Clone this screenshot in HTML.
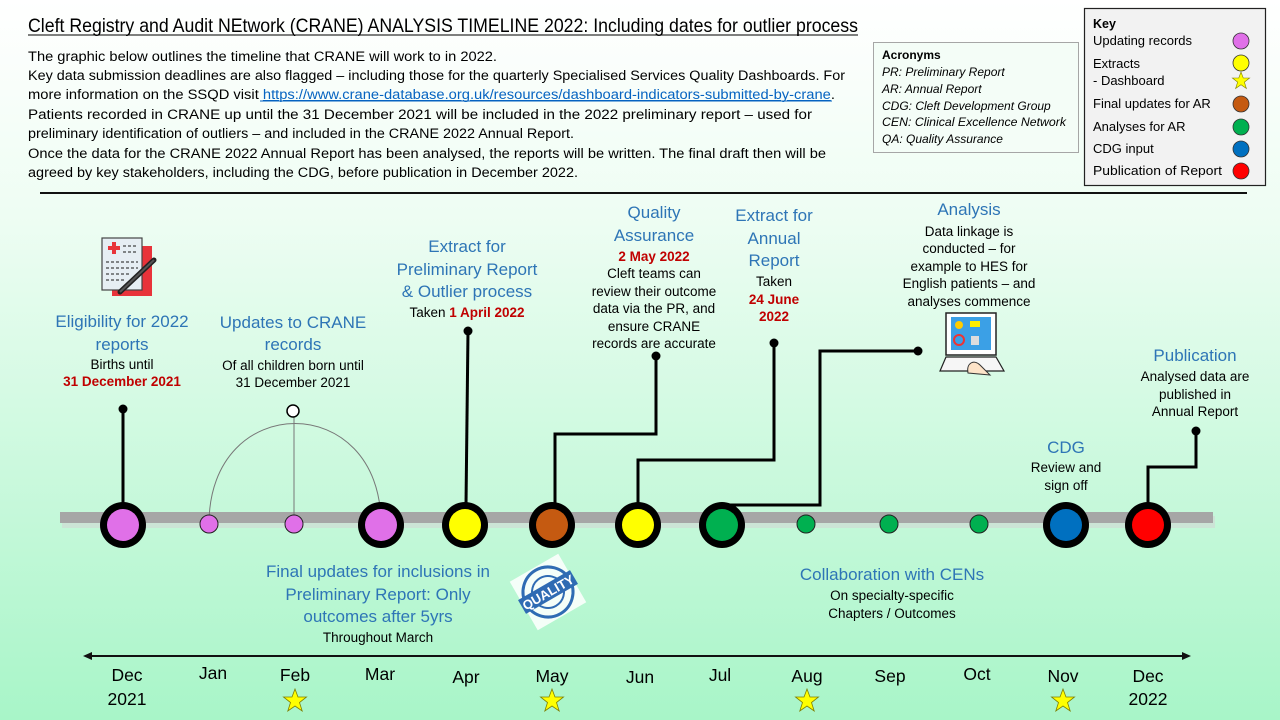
<!DOCTYPE html>
<html><head><meta charset="utf-8"><style>
html,body{margin:0;padding:0;width:1280px;height:720px;overflow:hidden}
svg{display:block}
text{font-family:"Liberation Sans",sans-serif}
.b{fill:#2e75b6;font-size:17px;text-anchor:middle}
.k{fill:#000;font-size:13.5px;text-anchor:middle}
.r{fill:#c00000;font-size:13.5px;font-weight:bold;text-anchor:middle}
.m{fill:#000;font-size:17.5px;text-anchor:middle}
.p{fill:#000;font-size:13.5px}
.a{fill:#000;font-size:12px;font-style:italic}
.y{fill:#000;font-size:13px}
</style></head><body>
<svg width="1280" height="720" viewBox="0 0 1280 720">
<defs>
<linearGradient id="bg" x1="0" y1="0" x2="0" y2="1">
<stop offset="0" stop-color="#ffffff"/><stop offset="0.3" stop-color="#eefdf3"/><stop offset="1" stop-color="#a8f5c8"/>
</linearGradient>
<g id="star"><polygon points="0,-12 3,-4 11.5,-4 4.5,1.5 7.2,10 0,5 -7.2,10 -4.5,1.5 -11.5,-4 -3,-4" fill="#ffff00" stroke="#7f7f00" stroke-width="0.8"/></g>
</defs>
<rect width="1280" height="720" fill="url(#bg)"/>

<text x="28" y="32" font-size="19.5" fill="#000" textLength="830" lengthAdjust="spacingAndGlyphs">Cleft Registry and Audit NEtwork (CRANE) ANALYSIS TIMELINE 2022: Including dates for outlier process</text>
<line x1="28" y1="35" x2="858" y2="35" stroke="#000" stroke-width="1"/>
<text class="p" x="28" y="61" textLength="469" lengthAdjust="spacingAndGlyphs">The graphic below outlines the timeline that CRANE will work to in 2022.</text>
<text class="p" x="28" y="80" textLength="817" lengthAdjust="spacingAndGlyphs">Key data submission deadlines are also flagged – including those for the quarterly Specialised Services Quality Dashboards. For</text>
<text class="p" x="28" y="99" textLength="807" lengthAdjust="spacingAndGlyphs">more information on the SSQD visit <tspan fill="#0563c1" text-decoration="underline">https://www.crane-database.org.uk/resources/dashboard-indicators-submitted-by-crane</tspan>.</text>
<line x1="260" y1="101" x2="832" y2="101" stroke="#0563c1" stroke-width="1"/>
<text class="p" x="28" y="119" textLength="784" lengthAdjust="spacingAndGlyphs">Patients recorded in CRANE up until the 31 December 2021 will be included in the 2022 preliminary report – used for</text>
<text class="p" x="28" y="138" textLength="546" lengthAdjust="spacingAndGlyphs">preliminary identification of outliers – and included in the CRANE 2022 Annual Report.</text>
<text class="p" x="28" y="158" textLength="798" lengthAdjust="spacingAndGlyphs">Once the data for the CRANE 2022 Annual Report has been analysed, the reports will be written. The final draft then will be</text>
<text class="p" x="28" y="177" textLength="550" lengthAdjust="spacingAndGlyphs">agreed by key stakeholders, including the CDG, before publication in December 2022.</text>

<rect x="873.5" y="42.5" width="205" height="110" fill="#f4fdf7" stroke="#a6a6a6"/>
<text x="882" y="59" font-size="12" font-weight="bold" fill="#000">Acronyms</text>
<text class="a" x="882" y="76">PR: Preliminary Report</text>
<text class="a" x="882" y="93">AR: Annual Report</text>
<text class="a" x="882" y="110">CDG: Cleft Development Group</text>
<text class="a" x="882" y="126" textLength="184" lengthAdjust="spacingAndGlyphs">CEN: Clinical Excellence Network</text>
<text class="a" x="882" y="143">QA: Quality Assurance</text>

<rect x="1084.5" y="8.5" width="181" height="177" fill="#f2f2f2" stroke="#222" stroke-width="1.2"/>
<text x="1093" y="28" font-size="12.5" font-weight="bold" fill="#000">Key</text>
<text class="y" x="1093" y="45">Updating records</text>
<text class="y" x="1093" y="68">Extracts</text>
<text class="y" x="1093" y="85">- Dashboard</text>
<text class="y" x="1093" y="108">Final updates for AR</text>
<text class="y" x="1093" y="131">Analyses for AR</text>
<text class="y" x="1093" y="153">CDG input</text>
<text class="y" x="1093" y="175" textLength="129" lengthAdjust="spacingAndGlyphs">Publication of Report</text>
<g stroke="#333" stroke-width="0.8">
<circle cx="1241" cy="41" r="8" fill="#e070e8"/>
<circle cx="1241" cy="63" r="8" fill="#ffff00"/>
<circle cx="1241" cy="104" r="8" fill="#c55a11"/>
<circle cx="1241" cy="127" r="8" fill="#00b050"/>
<circle cx="1241" cy="149" r="8" fill="#0070c0"/>
<circle cx="1241" cy="171" r="8" fill="#ff0000"/>
</g>
<use href="#star" transform="translate(1241,81) scale(0.75)"/>

<line x1="40" y1="193" x2="1247" y2="193" stroke="#111" stroke-width="2"/>

<rect x="62" y="516" width="1153" height="12" fill="#d0dcd4" opacity="0.7"/>
<rect x="60" y="512" width="1153" height="11" fill="#a6a6a6"/>

<path d="M209,524 C209,390 381,390 381,524" fill="none" stroke="#777" stroke-width="1"/>
<line x1="294" y1="412" x2="294" y2="524" stroke="#777" stroke-width="1"/>
<circle cx="293" cy="411" r="6" fill="#fff" stroke="#000" stroke-width="1.5"/>

<g stroke="#000" stroke-width="3" fill="none">
<polyline points="123,409 123,505"/>
<polyline points="468,331 466,505"/>
<polyline points="555,505 555,434 656,434 656,356"/>
<polyline points="638,505 638,460 774,460 774,343"/>
<polyline points="722,505 820,505 820,351 918,351"/>
<polyline points="1148,505 1148,467 1196,467 1196,431"/>
</g>
<g fill="#000">
<circle cx="123" cy="409" r="4.5"/><circle cx="468" cy="331" r="4.5"/><circle cx="656" cy="356" r="4.5"/>
<circle cx="774" cy="343" r="4.5"/><circle cx="918" cy="351" r="4.5"/><circle cx="1196" cy="431" r="4.5"/>
</g>

<g>
<ellipse cx="123" cy="525" rx="23" ry="23"/><circle cx="123" cy="525" r="16" fill="#e070e8"/>
<ellipse cx="381" cy="525" rx="23" ry="23"/><circle cx="381" cy="525" r="16" fill="#e070e8"/>
<ellipse cx="465" cy="525" rx="23" ry="23"/><circle cx="465" cy="525" r="16" fill="#ffff00"/>
<ellipse cx="552" cy="525" rx="23" ry="23"/><circle cx="552" cy="525" r="16" fill="#c55a11"/>
<ellipse cx="638" cy="525" rx="23" ry="23"/><circle cx="638" cy="525" r="16" fill="#ffff00"/>
<ellipse cx="722" cy="525" rx="23" ry="23"/><circle cx="722" cy="525" r="16" fill="#00b050"/>
<ellipse cx="1066" cy="525" rx="23" ry="23"/><circle cx="1066" cy="525" r="16" fill="#0070c0"/>
<ellipse cx="1148" cy="525" rx="23" ry="23"/><circle cx="1148" cy="525" r="16" fill="#ff0000"/>
</g>
<g stroke="#222" stroke-width="1">
<circle cx="209" cy="524" r="9" fill="#e070e8"/><circle cx="294" cy="524" r="9" fill="#e070e8"/>
<circle cx="806" cy="524" r="9" fill="#00b050"/><circle cx="889" cy="524" r="9" fill="#00b050"/><circle cx="979" cy="524" r="9" fill="#00b050"/>
</g>

<text class="b" x="122" y="327">Eligibility for 2022</text>
<text class="b" x="122" y="350">reports</text>
<text class="k" x="122" y="369">Births until</text>
<text class="r" x="122" y="386">31 December 2021</text>

<text class="b" x="293" y="328">Updates to CRANE</text>
<text class="b" x="293" y="350">records</text>
<text class="k" x="293" y="370">Of all children born until</text>
<text class="k" x="293" y="387">31 December 2021</text>

<text class="b" x="467" y="252">Extract for</text>
<text class="b" x="467" y="275">Preliminary Report</text>
<text class="b" x="467" y="297">&amp; Outlier process</text>
<text class="k" x="467" y="317">Taken <tspan fill="#c00000" font-weight="bold">1 April 2022</tspan></text>

<text class="b" x="654" y="218">Quality</text>
<text class="b" x="654" y="241">Assurance</text>
<text class="r" x="654" y="261">2 May 2022</text>
<text class="k" x="654" y="278">Cleft teams can</text>
<text class="k" x="654" y="296">review their outcome</text>
<text class="k" x="654" y="313">data via the PR, and</text>
<text class="k" x="654" y="331">ensure CRANE</text>
<text class="k" x="654" y="348">records are accurate</text>

<text class="b" x="774" y="221">Extract for</text>
<text class="b" x="774" y="244">Annual</text>
<text class="b" x="774" y="266">Report</text>
<text class="k" x="774" y="286">Taken</text>
<text class="r" x="774" y="304">24 June</text>
<text class="r" x="774" y="321">2022</text>

<text class="b" x="969" y="215">Analysis</text>
<text class="k" x="969" y="236">Data linkage is</text>
<text class="k" x="969" y="253">conducted – for</text>
<text class="k" x="969" y="271">example to HES for</text>
<text class="k" x="969" y="288">English patients – and</text>
<text class="k" x="969" y="306">analyses commence</text>

<text class="b" x="1195" y="361">Publication</text>
<text class="k" x="1195" y="381">Analysed data are</text>
<text class="k" x="1195" y="399">published in</text>
<text class="k" x="1195" y="416">Annual Report</text>

<text class="b" x="1066" y="453">CDG</text>
<text class="k" x="1066" y="472">Review and</text>
<text class="k" x="1066" y="490">sign off</text>

<text class="b" x="378" y="577">Final updates for inclusions in</text>
<text class="b" x="378" y="600">Preliminary Report: Only</text>
<text class="b" x="378" y="622">outcomes after 5yrs</text>
<text class="k" x="378" y="642">Throughout March</text>

<text class="b" x="892" y="580">Collaboration with CENs</text>
<text class="k" x="892" y="600">On specialty-specific</text>
<text class="k" x="892" y="618">Chapters / Outcomes</text>

<g transform="translate(100,236)">
<rect x="12" y="10" width="40" height="50" fill="#e8333a"/>
<rect x="2" y="2" width="40" height="52" fill="#e6eef3" stroke="#444" stroke-width="1.2"/>
<rect x="8" y="10" width="12" height="4" fill="#e8333a"/><rect x="12" y="6" width="4" height="12" fill="#e8333a"/>
<g stroke="#444" stroke-width="1.2" stroke-dasharray="3 2">
<line x1="23" y1="10" x2="38" y2="10"/><line x1="23" y1="16" x2="38" y2="16"/>
<line x1="6" y1="26" x2="38" y2="26"/><line x1="6" y1="32" x2="38" y2="32"/><line x1="6" y1="38" x2="30" y2="38"/><line x1="6" y1="44" x2="26" y2="44"/>
</g>
<line x1="54" y1="24" x2="20" y2="56" stroke="#222" stroke-width="5" stroke-linecap="round"/>
<line x1="54" y1="24" x2="20" y2="56" stroke="#555" stroke-width="2"/>
</g>

<g transform="translate(548,592) rotate(-30)">
<rect x="-28" y="-28" width="56" height="56" fill="#fff" opacity="0.85"/>
<circle r="25" fill="none" stroke="#2f6bb3" stroke-width="3"/>
<circle r="16" fill="none" stroke="#2f6bb3" stroke-width="2"/>
<rect x="-30" y="-8" width="60" height="16" fill="#2f6bb3"/>
<text x="0" y="5" font-size="13" font-weight="bold" fill="#fff" text-anchor="middle">QUALITY</text>
</g>

<g transform="translate(938,313)">
<rect x="8" y="0" width="50" height="42" fill="#fff" stroke="#222" stroke-width="1.5"/>
<rect x="13" y="4" width="40" height="33" fill="#3ba0e6"/>
<circle cx="21" cy="12" r="4" fill="#ffcc00"/><rect x="32" y="8" width="10" height="6" fill="#ffee00"/>
<circle cx="21" cy="27" r="5" fill="none" stroke="#e33" stroke-width="2"/><rect x="33" y="23" width="8" height="9" fill="#ddd"/>
<path d="M2,58 L8,44 L58,44 L66,58 Z" fill="#f6f6f6" stroke="#222" stroke-width="1.2"/>
<path d="M30,60 C28,50 36,46 42,52 L52,62 Z" fill="#fde3c8" stroke="#333" stroke-width="1"/>
</g>

<line x1="88" y1="656" x2="1186" y2="656" stroke="#111" stroke-width="2"/>
<polygon points="83,656 92,652 92,660" fill="#111"/>
<polygon points="1191,656 1182,652 1182,660" fill="#111"/>
<text class="m" x="127" y="681">Dec</text><text class="m" x="127" y="705">2021</text>
<text class="m" x="213" y="679">Jan</text>
<text class="m" x="295" y="681">Feb</text>
<text class="m" x="380" y="680">Mar</text>
<text class="m" x="466" y="683">Apr</text>
<text class="m" x="552" y="682">May</text>
<text class="m" x="640" y="683">Jun</text>
<text class="m" x="720" y="681">Jul</text>
<text class="m" x="807" y="682">Aug</text>
<text class="m" x="890" y="682">Sep</text>
<text class="m" x="977" y="680">Oct</text>
<text class="m" x="1063" y="682">Nov</text>
<text class="m" x="1148" y="682">Dec</text><text class="m" x="1148" y="705">2022</text>
<use href="#star" transform="translate(295,701)"/>
<use href="#star" transform="translate(552,701)"/>
<use href="#star" transform="translate(807,701)"/>
<use href="#star" transform="translate(1063,701)"/>
</svg>
</body></html>
